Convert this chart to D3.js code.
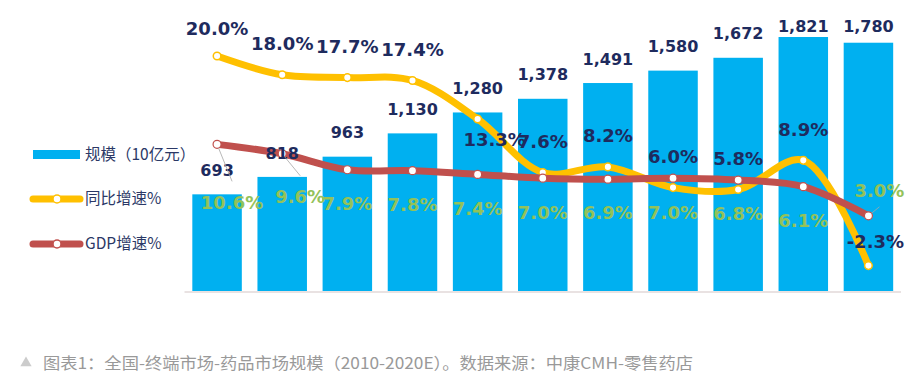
<!DOCTYPE html>
<html>
<head>
<meta charset="utf-8">
<script src="https://cdn.jsdelivr.net/npm/d3@7"></script>
<style>
  html, body { margin: 0; padding: 0; background: #fff; }
  svg { display: block; }
</style>
</head>
<body>
<div id="chart"></div>
<script>
// 数据
var years = ["2010", "2011", "2012", "2013", "2014", "2015", "2016", "2017", "2018", "2019", "2020E"];
var marketSize = [693, 818, 963, 1130, 1280, 1378, 1491, 1580, 1672, 1821, 1780];
var yoyGrowth = [20.0, 18.0, 17.7, 17.4, 13.3, 7.6, 8.2, 6.0, 5.8, 8.9, -2.3];
var gdpGrowth = [10.6, 9.6, 7.9, 7.8, 7.4, 7.0, 6.9, 7.0, 6.8, 6.1, 3.0];
var legendNames = ["规模（10亿元）", "同比增速%", "GDP增速%"];
var caption = "图表1：全国-终端市场-药品市场规模（2010-2020E）。数据来源：中康CMH-零售药店";

var w = 914, h = 375;
var barColor = "#00B0F0", yoyColor = "#FFC000", gdpColor = "#C0504D";
var navy = "#1E2B5E", green = "#93C25A";
var numFont = "'DejaVu Sans', Verdana, sans-serif";
var cjkFont = "'Noto Sans CJK SC', 'Microsoft YaHei', sans-serif";

var svg = d3.select("#chart").append("svg").attr("width", w).attr("height", h);

var x = d3.scaleBand().domain(years).range([184.5, 901]).paddingInner(0.24).paddingOuter(0.12);
var y = d3.scaleLinear().domain([0, 1821]).range([291, 37]);
var yPct = d3.scaleLinear().domain([-5, 25]).range([291, 9]);
var cx = function(i) { return x(years[i]) + x.bandwidth() / 2; };

//柱子
svg.selectAll(".bar").data(marketSize).enter().append("rect")
    .attr("x", function(d, i) { return x(years[i]); })
    .attr("y", function(d) { return y(d); })
    .attr("width", x.bandwidth())
    .attr("height", function(d) { return y(0) - y(d); })
    .attr("fill", barColor);

//底部横线
svg.append("line").attr("x1", x.range()[0]).attr("x2", x.range()[1])
    .attr("y1", y(0) + 1).attr("y2", y(0) + 1)
    .attr("stroke", "#E2D9D9").attr("stroke-width", 1.5);

//平滑曲线
var line = d3.line()
    .x(function(d, i) { return cx(i); })
    .y(function(d) { return yPct(d); })
    .curve(d3.curveCatmullRom.alpha(0.5));

svg.append("path").datum(yoyGrowth).attr("d", line)
    .attr("fill", "none").attr("stroke", yoyColor).attr("stroke-width", 7).attr("stroke-linecap", "round");
svg.selectAll(".yoyDot").data(yoyGrowth).enter().append("circle")
    .attr("cx", function(d, i) { return cx(i); }).attr("cy", function(d) { return yPct(d); })
    .attr("r", 3.8).attr("fill", "#fff").attr("stroke", yoyColor).attr("stroke-width", 1.5);

svg.append("path").datum(gdpGrowth).attr("d", line)
    .attr("fill", "none").attr("stroke", gdpColor).attr("stroke-width", 7).attr("stroke-linecap", "round");
svg.selectAll(".gdpDot").data(gdpGrowth).enter().append("circle")
    .attr("cx", function(d, i) { return cx(i); }).attr("cy", function(d) { return yPct(d); })
    .attr("r", 4).attr("fill", "#fff").attr("stroke", gdpColor).attr("stroke-width", 1.2);

//柱子数值(画在线上面)
svg.selectAll(".barLabel").data(marketSize).enter().append("text")
    .attr("x", function(d, i) { return cx(i); })
    .attr("y", function(d) { return Math.max(y(d) - 24, 26); })
    .attr("dy", ".35em").attr("text-anchor", "middle")
    .attr("font-family", numFont).attr("font-weight", "bold").attr("font-size", 16)
    .attr("fill", navy)
    .text(function(d) { return d3.format(",")(d); });

//同比标签位置
var yoyShift = function(i) {
    if (i === 0) return [0, -27];
    if (i === 4) return [17, 21];
    if (i === 10) return [7, -24];
    return [0, -31];
};
svg.selectAll(".yoyLabel").data(yoyGrowth).enter().append("text")
    .attr("x", function(d, i) { return cx(i) + yoyShift(i)[0]; })
    .attr("y", function(d, i) { return yPct(d) + yoyShift(i)[1]; })
    .attr("dy", ".35em").attr("text-anchor", "middle")
    .attr("font-family", numFont).attr("font-weight", "bold").attr("font-size", 18)
    .attr("fill", navy)
    .text(function(d) { return d.toFixed(1) + "%"; });

//GDP标签位置
var gdpShift = function(i) {
    if (i === 0) return [15, 58];
    if (i === 1) return [18, 43];
    if (i === 10) return [11, -25];
    return [0, 34];
};
//引导线
[0, 1, 10].forEach(function(i) {
    var px = cx(i), py = yPct(gdpGrowth[i]);
    var lx = px + gdpShift(i)[0], ly = py + gdpShift(i)[1] + (gdpShift(i)[1] > 0 ? -21 : 16);
    var len = Math.sqrt((lx - px) * (lx - px) + (ly - py) * (ly - py));
    svg.append("line")
        .attr("x1", px + (lx - px) / len * 4).attr("y1", py + (ly - py) / len * 4)
        .attr("x2", lx).attr("y2", ly)
        .attr("stroke", "#A6A6A6").attr("stroke-width", 0.8);
});
svg.selectAll(".gdpLabel").data(gdpGrowth).enter().append("text")
    .attr("x", function(d, i) { return cx(i) + gdpShift(i)[0]; })
    .attr("y", function(d, i) { return yPct(d) + gdpShift(i)[1]; })
    .attr("dy", ".35em").attr("text-anchor", "middle")
    .attr("font-family", numFont).attr("font-weight", "bold").attr("font-size", 18)
    .attr("fill", green)
    .text(function(d) { return d.toFixed(1) + "%"; });

//图例
var legendY = [155, 199, 244];
svg.append("rect").attr("x", 33).attr("y", legendY[0] - 5).attr("width", 47).attr("height", 9).attr("fill", barColor);
[[yoyColor, legendY[1]], [gdpColor, legendY[2]]].forEach(function(p) {
    svg.append("line").attr("x1", 33).attr("x2", 80).attr("y1", p[1]).attr("y2", p[1])
        .attr("stroke", p[0]).attr("stroke-width", 7).attr("stroke-linecap", "round");
    svg.append("circle").attr("cx", 57).attr("cy", p[1]).attr("r", 4)
        .attr("fill", "#fff").attr("stroke", p[0]).attr("stroke-width", 1.5);
});
svg.selectAll(".legendText").data(legendNames).enter().append("text")
    .attr("x", 85).attr("y", function(d, i) { return legendY[i]; })
    .attr("dy", ".35em")
    .attr("font-family", cjkFont).attr("font-size", 15.5)
    .attr("fill", "#2B3866")
    .text(function(d) { return d; });

//底部说明
svg.append("path").attr("d", d3.symbol(d3.symbolTriangle, 55)())
    .attr("transform", "translate(26,363)").attr("fill", "#CCCCCC");
svg.append("text").attr("x", 43).attr("y", 363).attr("dy", ".35em")
    .attr("font-family", cjkFont).attr("font-size", 16)
    .attr("textLength", 650).attr("lengthAdjust", "spacingAndGlyphs")
    .attr("fill", "#999999")
    .text(caption);
</script>
</body>
</html>
